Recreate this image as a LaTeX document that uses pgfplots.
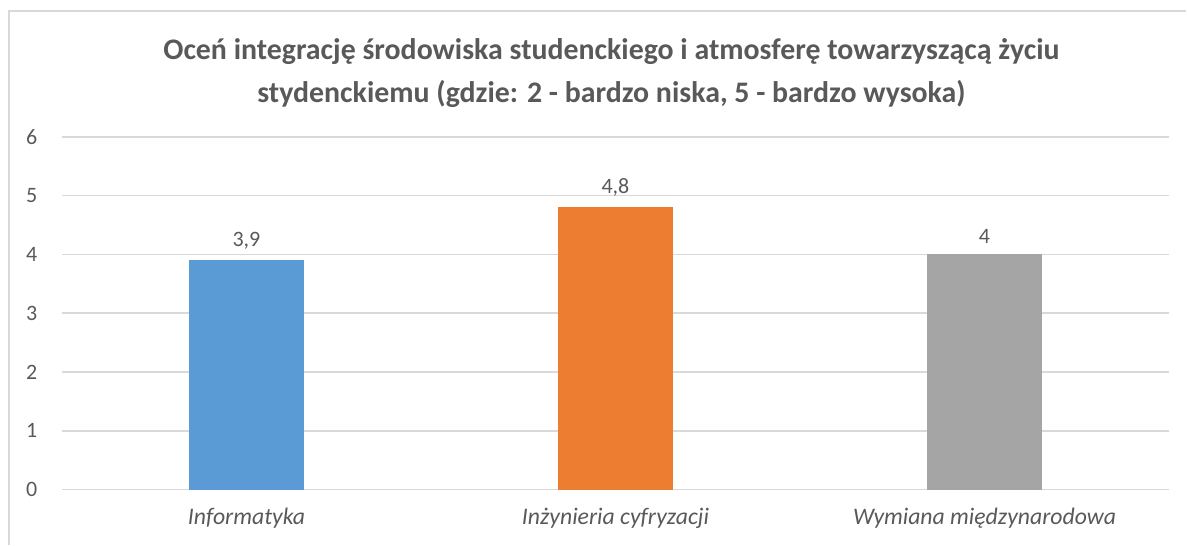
\documentclass[border=0pt]{standalone}
\usepackage{pgfplots}
\pgfplotsset{compat=1.18}
\usepackage{fontspec}
\setmainfont{Carlito}
\definecolor{txt}{HTML}{595959}
\definecolor{gridc}{HTML}{D9D9D9}
\definecolor{cblue}{HTML}{5B9BD5}
\definecolor{corange}{HTML}{ED7D31}
\definecolor{cgray}{HTML}{A5A5A5}
\begin{document}
\begin{tikzpicture}
\path (0,0) rectangle (890.25pt,408.75pt);
\draw[gridc, line width=1.5pt] (6.75pt,0pt) -- (6.75pt,400.5pt) -- (890.25pt,400.5pt);
\node[align=center, text=txt, font=\fontsize{22.4}{32}\selectfont\bfseries] at (459pt,354pt)
  {Oceń integrację środowiska studenckiego i atmosferę towarzyszącą życiu\\stydenckiemu (gdzie: 2 - bardzo niska, 5 - bardzo wysoka)};
\begin{axis}[
  at={(46.5pt,41.25pt)}, anchor=south west,
  scale only axis, width=831pt, height=264.75pt,
  xmin=-0.5, xmax=2.5, ymin=0, ymax=6,
  axis line style={draw=none},
  major tick length=0pt,
  ytick={0,1,2,3,4,5,6},
  ymajorgrids, grid style={gridc, line width=1.2pt},
  xtick={0,1,2},
  xticklabels={Informatyka, Inżynieria cyfryzacji, Wymiana międzynarodowa},
  xticklabel style={font=\fontsize{17.8}{21}\selectfont\itshape, text=txt, yshift=-10pt},
  yticklabel style={font=\fontsize{16.5}{19}\selectfont, text=txt, xshift=-15pt},
  /pgf/number format/assume math mode=true,
  ybar, bar shift=0pt, bar width=87pt,
  nodes near coords,
  every node near coord/.append style={font=\fontsize{16.5}{19}\selectfont, text=txt, yshift=5pt,
    /pgf/number format/use comma},
  clip=false,
]
\addplot[fill=cblue, draw=none] coordinates {(0,3.9)};
\addplot[fill=corange, draw=none] coordinates {(1,4.8)};
\addplot[fill=cgray, draw=none] coordinates {(2,4)};
\end{axis}
\end{tikzpicture}
\end{document}
